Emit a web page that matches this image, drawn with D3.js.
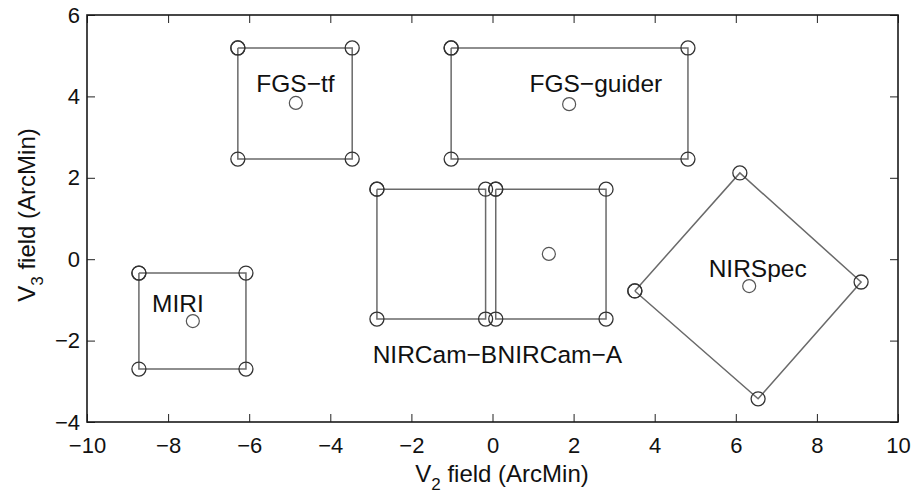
<!DOCTYPE html>
<html>
<head>
<meta charset="utf-8">
<script src="https://cdn.jsdelivr.net/npm/d3@7"></script>
<style>
  html, body { margin: 0; padding: 0; background: #fff; }
  svg { display: block; font-family: "Liberation Sans", Arial, Helvetica, sans-serif; }
</style>
</head>
<body>
<svg id="chart" width="914" height="495"></svg>
<script>
// ---- data (arcmin) ----
const instruments = ["FGS\u2212tf", "FGS\u2212guider", "NIRCam\u2212B", "NIRCam\u2212A", "MIRI", "NIRSpec"];
// aperture outlines (closed: first vertex repeated)
const outlineX = [
  [-6.28, -3.46, -3.46, -6.28, -6.28],
  [-1.02,  4.82,  4.82, -1.02, -1.02],
  [-2.85, -0.17, -0.17, -2.85, -2.85],
  [ 0.08,  2.80,  2.80,  0.08,  0.08],
  [-8.72, -6.08, -6.08, -8.72, -8.72],
  [ 3.51,  6.10,  9.09,  6.55,  3.51]
];
const outlineY = [
  [ 5.19,  5.19,  2.46,  2.46,  5.19],
  [ 5.19,  5.19,  2.46,  2.46,  5.19],
  [ 1.72,  1.72, -1.47, -1.47,  1.72],
  [ 1.72,  1.72, -1.47, -1.47,  1.72],
  [-0.34, -0.34, -2.70, -2.70, -0.34],
  [-0.78,  2.12, -0.56, -3.43, -0.78]
];
// reference (centre) points
const centerNames = ["FGS\u2212tf", "FGS\u2212guider", "NIRCam\u2212A", "MIRI", "NIRSpec"];
const centerX = [-4.85, 1.89, 1.39, -7.39, 6.33];
const centerY = [ 3.84, 3.81, 0.13, -1.52, -0.66];
// label anchor positions (data coords)
const labelX = [-4.86, 2.55, -1.42, 1.66, -7.76, 6.54];
const labelY = [ 4.12, 4.12, -2.55, -2.55, -1.30, -0.44];
// axes
const xTicks = [-10, -8, -6, -4, -2, 0, 2, 4, 6, 8, 10];
const yTicks = [-4, -2, 0, 2, 4, 6];
const xDomain = [-10, 10];
const yDomain = [-4, 6];

// ---- layout ----
const L = 87, R = 898, T = 15, B = 422;
const svg = d3.select("#chart");
const x = d3.scaleLinear().domain(xDomain).range([L, R]);
const y = d3.scaleLinear().domain(yDomain).range([B, T]);

const fmt = d3.format("d");

// axes with inward ticks
const gx = svg.append("g").attr("transform", `translate(0,${B})`)
  .call(d3.axisBottom(x).tickValues(xTicks).tickFormat(fmt).tickSizeInner(-8).tickSizeOuter(0).tickPadding(15));
const gxt = svg.append("g").attr("transform", `translate(0,${T})`)
  .call(d3.axisTop(x).tickValues(xTicks).tickFormat("").tickSizeInner(-8).tickSizeOuter(0));
const gy = svg.append("g").attr("transform", `translate(${L},0)`)
  .call(d3.axisLeft(y).tickValues(yTicks).tickFormat(fmt).tickSizeInner(-8).tickSizeOuter(0).tickPadding(7));
const gyr = svg.append("g").attr("transform", `translate(${R},0)`)
  .call(d3.axisRight(y).tickValues(yTicks).tickFormat("").tickSizeInner(-8).tickSizeOuter(0));

[gx, gxt, gy, gyr].forEach(g => {
  g.select(".domain").remove();
  g.selectAll(".tick line").attr("stroke", "#222").attr("stroke-width", 1);
  g.selectAll(".tick text").attr("fill", "#111").style("font-size", "22px")
    .style("font-family", '"Liberation Sans", Arial, sans-serif');
});

// box
svg.append("rect").attr("x", L).attr("y", T).attr("width", R - L).attr("height", B - T)
  .attr("fill", "none").attr("stroke", "#1a1a1a").attr("stroke-width", 1.6);

// outlines
const line = d3.line().x(d => x(d[0])).y(d => y(d[1]));
instruments.forEach((name, i) => {
  const pts = outlineX[i].map((v, j) => [v, outlineY[i][j]]);
  svg.append("path").attr("d", line(pts)).attr("fill", "none")
    .attr("stroke", "#6a6a6a").attr("stroke-width", 1.5);
  svg.append("g").selectAll("circle").data(pts).join("circle")
    .attr("cx", d => x(d[0])).attr("cy", d => y(d[1])).attr("r", 7)
    .attr("fill", "none").attr("stroke", "#333").attr("stroke-width", 1.3);
});

// centre points
svg.append("g").selectAll("circle").data(centerX.map((v, i) => [v, centerY[i]])).join("circle")
  .attr("cx", d => x(d[0])).attr("cy", d => y(d[1])).attr("r", 6.5)
  .attr("fill", "none").attr("stroke", "#555").attr("stroke-width", 1.2);

// labels
svg.append("g").selectAll("text").data(instruments).join("text")
  .attr("x", (d, i) => x(labelX[i])).attr("y", (d, i) => y(labelY[i]))
  .attr("text-anchor", "middle").attr("fill", "#111").style("font-size", "24.5px")
  .text(d => d);

// axis titles
const xt = svg.append("text").attr("x", 502).attr("y", 482).attr("text-anchor", "middle")
  .attr("fill", "#111").style("font-size", "24px");
xt.append("tspan").text("V");
xt.append("tspan").attr("dy", 8).style("font-size", "17px").text("2");
xt.append("tspan").attr("dy", -8).text(" field (ArcMin)");

const yt = svg.append("text").attr("transform", "translate(35,215) rotate(-90)").attr("text-anchor", "middle")
  .attr("fill", "#111").style("font-size", "24px");
yt.append("tspan").text("V");
yt.append("tspan").attr("dy", 8).style("font-size", "17px").text("3");
yt.append("tspan").attr("dy", -8).text(" field (ArcMin)");
</script>
</body>
</html>
